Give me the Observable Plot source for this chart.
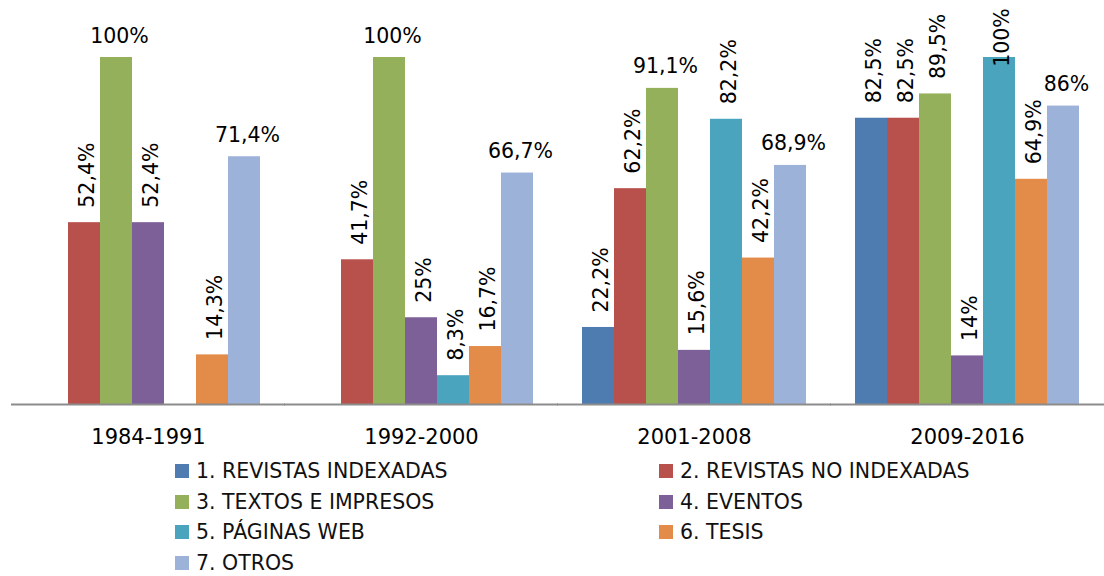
<!DOCTYPE html>
<html><head><meta charset="utf-8">
<script src="https://cdn.jsdelivr.net/npm/d3@7"></script>
<script src="https://cdn.jsdelivr.net/npm/@observablehq/plot@0.6"></script>
<style>
body{margin:0;background:#fff;font-family:"DejaVu Sans",sans-serif;overflow:hidden;}
#chart svg{display:block;}
#legend{display:grid;grid-template-columns:484px 445px;padding-left:175px;}
.item{height:30.5px;display:flex;align-items:center;font-size:20.5px;line-height:22px;color:#111;white-space:nowrap;}
.sw{width:14px;height:14px;margin-right:7px;flex:none;}
</style></head><body><div id="chart"></div><div id="legend"></div>
<script>
const periods = ["1984-1991", "1992-2000", "2001-2008", "2009-2016"];
const categories = ["1. REVISTAS INDEXADAS", "2. REVISTAS NO INDEXADAS", "3. TEXTOS E IMPRESOS", "4. EVENTOS", "5. PÁGINAS WEB", "6. TESIS", "7. OTROS"];
const colors = ["#4e7bb0", "#b8504b", "#95b05a", "#7d6098", "#4aa4bd", "#e38b49", "#9db2d9"];
const revistasIndexadas   = [null, null, 22.2, 82.5];
const revistasNoIndexadas = [52.4, 41.7, 62.2, 82.5];
const textosImpresos      = [100, 100, 91.1, 89.5];
const eventos             = [52.4, 25, 15.6, 14];
const paginasWeb          = [null, 8.3, 82.2, 100];
const tesis               = [14.3, 16.7, 42.2, 64.9];
const otros               = [71.4, 66.7, 68.9, 86];
const series = [revistasIndexadas, revistasNoIndexadas, textosImpresos, eventos, paginasWeb, tesis, otros];

// labels drawn horizontally (others are rotated), as in the original
const horizontalKeys = new Set(["1984-1991|2", "1984-1991|6", "1992-2000|2", "1992-2000|6", "2001-2008|2", "2001-2008|6", "2009-2016|6"]);

const rows = [];
periods.forEach((p, i) => series.forEach((s, j) => {
  rows.push({period: p, category: categories[j], value: s[i], horizontal: horizontalKeys.has(p + "|" + j)});
}));
const fmt = d => String(d.value).replace(".", ",") + "%";
const labeled = rows.filter(d => d.value != null);

const chart = Plot.plot({
  width: 1104,
  height: 456,
  marginLeft: 10,
  marginRight: 0,
  marginTop: 57,
  marginBottom: 52,
  style: {fontFamily: "DejaVu Sans, sans-serif", fontSize: "21px", color: "#000", background: "#fff"},
  fx: {domain: periods, paddingInner: 0.18, paddingOuter: 0.09, label: null, tickSize: 0, tickPadding: 25},
  x: {domain: categories, padding: 0, axis: null},
  y: {domain: [0, 100], axis: null},
  color: {domain: categories, range: colors},
  marks: [
    Plot.barY(rows, {fx: "period", x: "category", y: "value", fill: "category"}),
    Plot.ruleY([0], {stroke: "#8c8c8c", strokeWidth: 2, insetLeft: -25, insetRight: -25}),
    Plot.text(labeled.filter(d => d.horizontal), {
      fx: "period", x: "category", y: "value", text: fmt,
      lineAnchor: "bottom", dy: -15, dx: 3, fontSize: 20.5, fill: "#000"
    }),
    Plot.text(labeled.filter(d => !d.horizontal), {
      fx: "period", x: "category", y: d => Math.min(d.value, 93), text: fmt,
      rotate: -90, textAnchor: "start", lineAnchor: "middle", dy: -15, dx: 3, fontSize: 20.5, fill: "#000"
    })
  ]
});
document.getElementById("chart").appendChild(chart);

const legend = document.getElementById("legend");
categories.forEach((c, i) => {
  const item = document.createElement("div");
  item.className = "item";
  const sw = document.createElement("span");
  sw.className = "sw";
  sw.style.background = colors[i];
  item.appendChild(sw);
  item.appendChild(document.createTextNode(c));
  legend.appendChild(item);
});
</script></body></html>
